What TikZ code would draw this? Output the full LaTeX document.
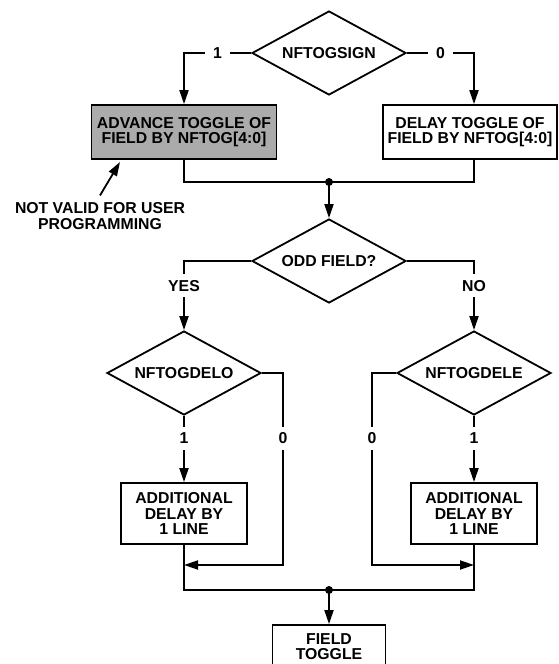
\documentclass[tikz,border=0pt]{standalone}
\usepackage{fontspec}
\setmainfont{Liberation Sans}
\usepackage{tikz}
\usetikzlibrary{shapes.geometric,arrows.meta}

\begin{document}
\begin{tikzpicture}[x=1pt, y=-1pt, line width=1.8pt,
    every node/.style={font=\fontsize{15.8}{15.5}\selectfont\bfseries, align=center},
    decision/.style={diamond, draw, aspect=1.83, inner sep=0pt, minimum width=154pt, minimum height=84pt},
    block/.style={rectangle, draw, inner sep=0pt},
    lbl/.style={fill=white, inner xsep=8pt, inner ysep=6pt},
    arr/.style={-{Triangle[length=14pt, width=9pt]}}]
    \useasboundingbox (0,0) rectangle (558,664);
    \node (sign) [decision] at (329,53) {NFTOGSIGN};
    \node (adv) [block, fill=black!33, minimum width=185pt, minimum height=54pt] at (184,132) {ADVANCE TOGGLE OF\\FIELD BY NFTOG[4:0]};
    \node (delay) [block, minimum width=174pt, minimum height=54pt] at (470,132) {DELAY TOGGLE OF\\FIELD BY NFTOG[4:0]};
    \node (note) at (100,216) {NOT VALID FOR USER\\PROGRAMMING};
    \node (odd) [decision] at (329,261) {ODD FIELD?};
    \node (delo) [decision] at (184,373) {NFTOGDELO};
    \node (dele) [decision] at (474,373) {NFTOGDELE};
    \node (add1) [block, minimum width=126pt, minimum height=61pt] at (184,513.5) {ADDITIONAL\\DELAY BY\\1 LINE};
    \node (add2) [block, minimum width=126pt, minimum height=61pt] at (474,513.5) {ADDITIONAL\\DELAY BY\\1 LINE};
    \node (fld) [block, minimum width=113pt, minimum height=43pt] at (329,646.5) {FIELD\\TOGGLE};
    \coordinate (rx) at (474,53);
    \coordinate (m1) at (329,182);
    \coordinate (m2) at (329,590);
    \coordinate (j1) at (283,565);
    \coordinate (j2) at (372,565);
    \coordinate (hint) at (120,162);
    % sign branches
    \draw [arr] (sign.west) -- node[lbl] {1} (sign.west -| adv.north) -- (adv.north);
    \draw [arr] (sign.east) -- node[lbl] {0} (rx) -- (rx |- delay.north);
    \draw (adv.south) |- (m1) -| (rx |- delay.south);
    \fill (m1) circle (4pt);
    \draw [arr] (m1) -- (odd.north);
    \draw [arr] ([yshift=3pt]note.north) -- (hint);
    % odd / even field
    \draw [arr] (odd.west) -| node[lbl, pos=0.68] {YES} (delo.north);
    \draw [arr] (odd.east) -| node[lbl, pos=0.68] {NO} (dele.north);
    \draw [arr] (delo.south) -- node[lbl, pos=0.34] {1} (add1.north);
    \draw [arr] (dele.south) -- node[lbl, pos=0.34] {1} (add2.north);
    \draw [arr] (delo.east) -| node[lbl, pos=0.67] {0} (j1) -- (j1 -| add1.south);
    \draw [arr] (dele.west) -| node[lbl, pos=0.67] {0} (j2) -- (j2 -| add2.south);
    \draw (add1.south) |- (m2) -| (add2.south);
    \fill (m2) circle (4pt);
    \draw [arr] (m2) -- (fld.north);
\end{tikzpicture}
\end{document}
